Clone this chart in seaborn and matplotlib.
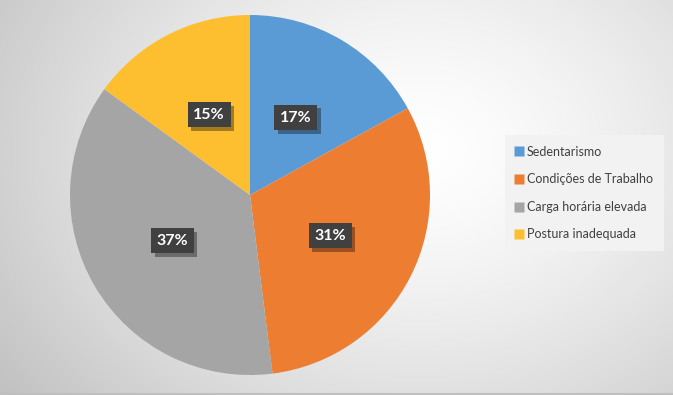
import numpy as np
import matplotlib
matplotlib.use("Agg")
import matplotlib.pyplot as plt
import matplotlib.patheffects as pe
from matplotlib.lines import Line2D
import seaborn as sns

# Data
categories = ["Sedentarismo", "Condições de Trabalho", "Carga horária elevada", "Postura inadequada"]
values = [17, 31, 37, 15]
colors = ["#5B9BD5", "#ED7D31", "#A5A5A5", "#FDBE2F"]

sns.set_theme(style="white")
plt.rcParams['font.family'] = ['Lato', 'DejaVu Sans']

W, H = 673, 395
fig = plt.figure(figsize=(W / 100, H / 100), dpi=100)

# Radial gradient background
bg = fig.add_axes([0, 0, 1, 1])
yy, xx = np.mgrid[0:H, 0:W]
d = np.sqrt(((xx - 420) / 420.0) ** 2 + ((yy - 150) / 330.0) ** 2)
shade = 1.0 - 0.18 * np.clip(d, 0, 1.3) ** 1.4
bg.imshow(np.dstack([shade] * 3), extent=[0, W, H, 0], aspect="auto")
bg.axhline(H - 1.5, color="#BFBFBF", lw=1.5)
bg.set_xlim(0, W)
bg.set_ylim(H, 0)
bg.axis("off")

# Pie axes: center (250,195), radius 180 px
cx, cy, r = 250, 195, 180
ax = fig.add_axes([(cx - r) / W, (H - cy - r) / H, 2 * r / W, 2 * r / H])
wedges, texts, autotexts = ax.pie(
    values, colors=colors, startangle=90, counterclock=False,
    autopct="%d%%", pctdistance=0.5, radius=1,
    wedgeprops=dict(linewidth=0),
)
for t in autotexts:
    t.set_color("white")
    t.set_fontsize(11.5)
    t.set_fontweight("bold")
    t.set_bbox(dict(facecolor="#404040", edgecolor="none", boxstyle="square,pad=0.35"))
    t.get_bbox_patch().set_path_effects([
        pe.SimplePatchShadow(offset=(2.5, -2.5), shadow_rgbFace="#000000", alpha=0.35),
        pe.Normal(),
    ])
ax.set_xlim(-1, 1)
ax.set_ylim(-1, 1)
ax.set_aspect("equal")
ax.axis("off")

handles = [Line2D([0], [0], marker="s", linestyle="none", markersize=6.5,
                  markerfacecolor=c, markeredgecolor="none") for c in colors]
leg = fig.legend(handles, categories, loc="upper left",
                 bbox_to_anchor=(505 / W, 1 - 135 / H),
                 fontsize=9, frameon=True, fancybox=False,
                 handlelength=0.6, handletextpad=0.3, labelspacing=1.25,
                 borderpad=0.85, borderaxespad=0)
leg.get_frame().set_facecolor("#F2F2F2")
leg.get_frame().set_edgecolor("none")
leg.get_frame().set_alpha(1)
for t in leg.get_texts():
    t.set_color("#404040")

fig.savefig("out.png", dpi=100)
